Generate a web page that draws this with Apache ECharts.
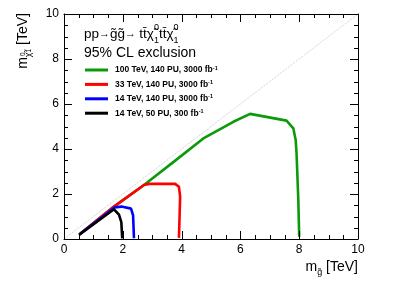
<!DOCTYPE html>
<html>
<head>
<meta charset="utf-8">
<script src="https://cdn.jsdelivr.net/npm/echarts@6/dist/echarts.min.js"></script>
<style>html,body{margin:0;padding:0;background:#fff}#c{width:399px;height:286px}</style>
</head>
<body>
<div id="c"></div>
<script>
// ---- data ----
const xTicks = [0, 2, 4, 6, 8, 10];
const yTicks = [0, 2, 4, 6, 8, 10];
const tickMarks = [0, 0.5, 1, 1.5, 2, 2.5, 3, 3.5, 4, 4.5, 5, 5.5, 6, 6.5, 7, 7.5, 8, 8.5, 9, 9.5, 10];
const seriesNames = ['100 TeV, 140 PU, 3000 fb', '33 TeV, 140 PU, 3000 fb', '14 TeV, 140 PU, 3000 fb', '14 TeV, 50 PU, 300 fb'];
const seriesColors = ['#0a9a0a', '#ff0000', '#0000ff', '#000000'];
const green100 = [[0.54,0.22],[1.70,1.44],[2.72,2.40],[3.75,3.45],[4.74,4.47],[5.76,5.21],[6.33,5.56],[7.57,5.26],[7.80,4.92],[7.88,4.40],[7.91,3.81],[7.97,1.73],[8.00,0.10]];
const red33 = [[0.54,0.22],[1.70,1.44],[2.72,2.40],[2.90,2.45],[3.78,2.45],[3.91,2.32],[3.95,1.88],[3.91,0.05]];
const blue14 = [[0.52,0.20],[1.72,1.40],[1.95,1.44],[2.28,1.35],[2.35,1.05],[2.38,0.03]];
const black14 = [[0.51,0.18],[1.70,1.32],[1.87,1.08],[1.95,0.75],[1.98,0.03]];
const diagonal = [[0,0],[10,10]];
const seriesData = [green100, red33, blue14, black14];

const FONT = 'Liberation Sans, Arial, Helvetica, sans-serif';
const chart = echarts.init(document.getElementById('c'));
const X0 = xTicks[0], X1 = xTicks[xTicks.length - 1], Y0 = yTicks[0], Y1 = yTicks[yTicks.length - 1];

function axisCommon(ticks, extra) {
  return Object.assign({
    type: 'value', min: ticks[0], max: ticks[ticks.length - 1], interval: ticks[1] - ticks[0],
    axisLine: {show: true, onZero: false, lineStyle: {color: '#000', width: 1}},
    axisTick: {show: false},
    minorTick: {show: false},
    splitLine: {show: false},
    axisLabel: {show: true, color: '#000', fontSize: 12, fontFamily: FONT, margin: 5}
  }, extra || {});
}

const series = [{
  type: 'line', data: diagonal, showSymbol: false, silent: true,
  lineStyle: {color: '#c8c8c8', width: 1, type: 'dotted'}
}];
seriesData.forEach((d, i) => {
  series.push({
    name: seriesNames[i], type: 'line', data: d, showSymbol: false,
    lineStyle: {width: 2.6}
  });
});

// inward tick marks on all four sides, positioned through the axes' scales
function px(v) { return Math.round(v) + 0.5; }
series.push({
  type: 'custom', silent: true, clip: false, z: 10,
  data: tickMarks.map(v => [v, v]),
  renderItem: function (params, api) {
    const v = api.value(0);
    const isMajor = xTicks.indexOf(v) >= 0;
    const len = isMajor ? 8 : 4;
    const st = {stroke: '#000', lineWidth: 1};
    const b = api.coord([v, Y0]), t = api.coord([v, Y1]);
    const l = api.coord([X0, v]), r = api.coord([X1, v]);
    const xb = px(b[0]), yb = Math.round(b[1]), yt = Math.round(t[1]);
    const yl = px(l[1]), xl = Math.round(l[0]), xr = Math.round(r[0]);
    return {
      type: 'group',
      children: [
        {type: 'line', shape: {x1: xb, y1: yb, x2: xb, y2: yb - len}, style: st},
        {type: 'line', shape: {x1: xb, y1: yt, x2: xb, y2: yt + len}, style: st},
        {type: 'line', shape: {x1: xl, y1: yl, x2: xl + len, y2: yl}, style: st},
        {type: 'line', shape: {x1: xr, y1: yl, x2: xr - len, y2: yl}, style: st}
      ]
    };
  }
});

const option = {
  animation: false,
  color: ['#c8c8c8'].concat(seriesColors),
  grid: {left: 64, right: 41, top: 14, bottom: 47},
  xAxis: [
    axisCommon(xTicks, {position: 'bottom'}),
    axisCommon(xTicks, {position: 'top', axisLabel: {show: false}})
  ],
  yAxis: [
    axisCommon(yTicks, {position: 'left'}),
    axisCommon(yTicks, {position: 'right', axisLabel: {show: false}})
  ],
  legend: {
    data: seriesNames, orient: 'vertical', left: 85, top: 64, padding: 0,
    icon: 'rect', itemWidth: 23, itemHeight: 3, itemGap: 2.4,
    formatter: n => n + '{s|-1}',
    textStyle: {
      fontSize: 8.5, fontWeight: 'bold', fontFamily: FONT, color: '#000', lineHeight: 12, padding: [0,0,0,2],
      rich: {s: {fontSize: 5.5, fontWeight: 'bold', fontFamily: FONT, verticalAlign: 'top', lineHeight: 12, padding: [1,0,0,0]}}
    }
  },
  graphic: [
    {
      type: 'text', x: 84, y: 34,
      style: {
        text: '{n|pp}{a|→}{n|g̃g̃}{a|→} {n|tt̄χ̃}{p|0}{b|1}{n|tt̄χ̃}{p|0}{b|1}',
        verticalAlign: 'middle', align: 'left', fill: '#000',
        rich: {
          n: {fontSize: 13.5, fontFamily: FONT, lineHeight: 22},
          a: {fontSize: 11, fontFamily: FONT, lineHeight: 22},
          p: {fontSize: 9, fontFamily: FONT, verticalAlign: 'top', lineHeight: 9, width: 0},
          b: {fontSize: 9, fontFamily: FONT, verticalAlign: 'bottom', lineHeight: 11}
        }
      }
    },
    {
      type: 'text', x: 84, y: 53,
      style: {text: '95% CL exclusion', fontSize: 14, fontFamily: FONT, fill: '#000', verticalAlign: 'middle', align: 'left'}
    },
    {
      type: 'text', x: 23, y: 13, rotation: Math.PI / 2,
      style: {
        text: '{n|m}{b|χ̃}{p|0}{q|1}{n| [TeV]}',
        align: 'right', verticalAlign: 'middle', fill: '#000',
        rich: {
          n: {fontSize: 14, fontFamily: FONT, lineHeight: 20},
          b: {fontSize: 9, fontFamily: FONT, verticalAlign: 'bottom', lineHeight: 14},
          p: {fontSize: 6.5, fontFamily: FONT, verticalAlign: 'middle', lineHeight: 8, width: 0},
          q: {fontSize: 6.5, fontFamily: FONT, verticalAlign: 'bottom', lineHeight: 7}
        }
      }
    },
    {
      type: 'text', x: 358, y: 267,
      style: {
        text: '{n|m}{b|g̃}{n| [TeV]}',
        align: 'right', verticalAlign: 'middle', fill: '#000',
        rich: {
          n: {fontSize: 14, fontFamily: FONT, lineHeight: 20},
          b: {fontSize: 9, fontFamily: FONT, verticalAlign: 'bottom', lineHeight: 12}
        }
      }
    }
  ],
  series: series
};
chart.setOption(option);
</script>
</body>
</html>
